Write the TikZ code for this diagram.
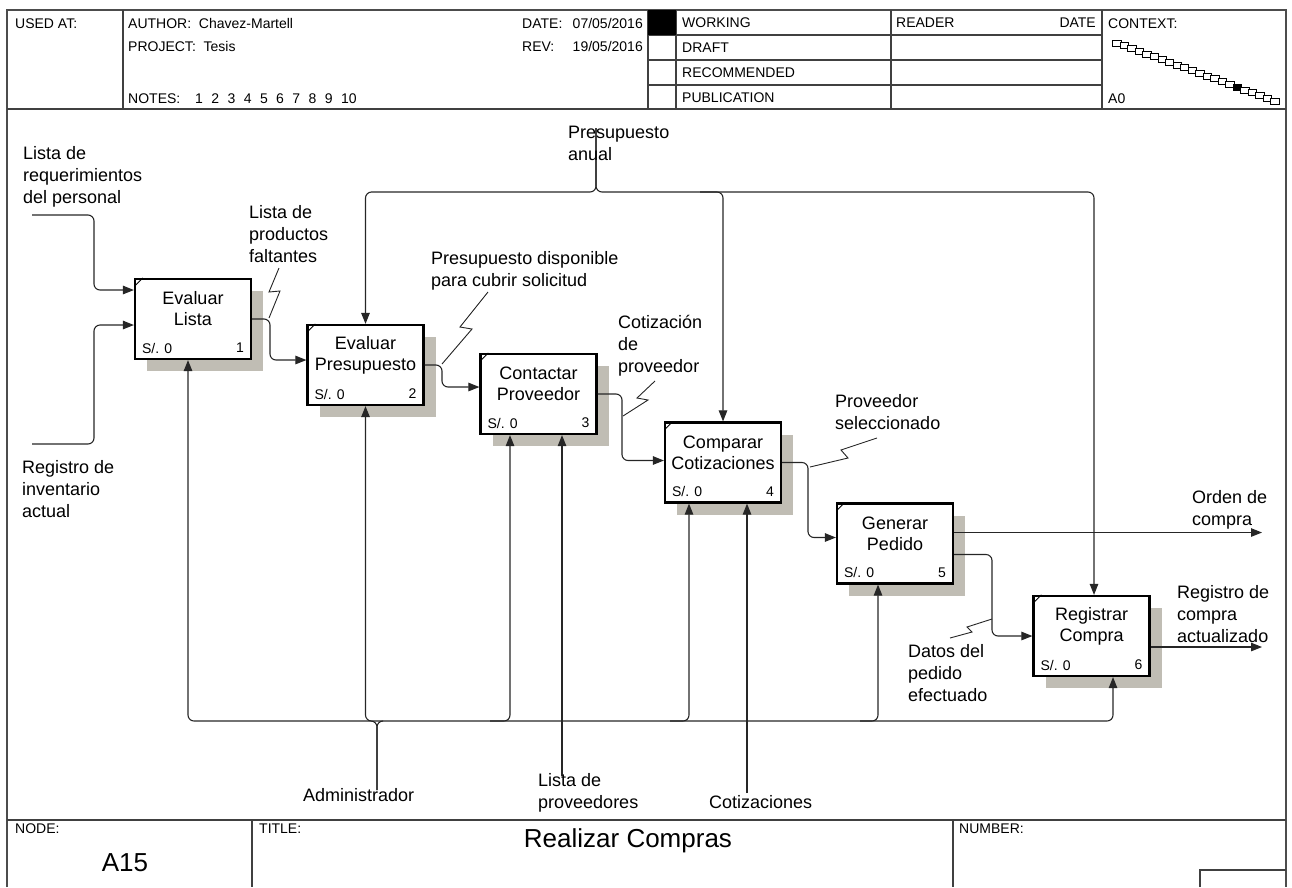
\documentclass[tikz,border=0pt]{standalone}
\usepackage{fontspec}
\setmainfont{Liberation Sans}
\usetikzlibrary{arrows.meta,shadows,calc}
\definecolor{shc}{RGB}{192,189,180}

\begin{document}
\begin{tikzpicture}[x=1pt,y=-1pt,
  frame/.style={line width=1.8pt, draw=black!70},
  rule/.style={line width=1.1pt, draw=black!75},
  conn/.style={line width=1.1pt, draw=black!85, rounded corners=6pt},
  arr/.style={conn, -{Triangle[length=11pt,width=8.5pt]}},
  zig/.style={line width=0.9pt, draw=black!85},
  actbox/.style={draw=black, line width=2.2pt, fill=white, minimum width=116pt,
    minimum height=80pt, inner sep=0pt,
    drop shadow={shadow xshift=12pt, shadow yshift=-12pt, fill=shc, opacity=1}},
  btitle/.style={font=\fontsize{18}{21}\selectfont, align=center, inner sep=0pt},
  bsmall/.style={font=\fontsize{14}{16}\selectfont, inner sep=0pt},
  lbl/.style={font=\fontsize{18}{22}\selectfont, align=left, inner sep=0pt, anchor=north west},
  hdr/.style={font=\fontsize{14}{16}\selectfont, inner sep=0pt, anchor=base west},
  big/.style={font=\fontsize{26}{30}\selectfont, inner sep=0pt},
]
\useasboundingbox (0,0) rectangle (1292,887);

% ---------- sheet frame ----------
\draw[frame] (7,887) -- (7,10) -- (1286,10) -- (1286,887);
\draw[rule] (7,109) -- (1286,109);
\foreach \xx in {123,648,676,891,1102} \draw[rule] (\xx,10) -- (\xx,109);
\foreach \yy in {35,60,85} \draw[rule] (648,\yy) -- (1102,\yy);
\fill[black] (648,10) rectangle (676,35);
\draw[rule] (7,820) -- (1286,820);
\draw[rule] (252,820) -- (252,887);
\draw[rule] (953,820) -- (953,887);
\draw[rule] (1200,887) |- (1286,870);

% ---------- header texts (baselines) ----------
\node[hdr] (h-used) at (15,28) {USED AT:};
\node[hdr] (h-auth) at (128,28) {AUTHOR:\ \ Chavez-Martell};
\node[hdr] (h-proj) at (128,51) {PROJECT:\ \ Tesis};
\node[hdr] (h-notes) at (128,103) {NOTES:};
\foreach \n [count=\i] in {1,...,10}
  \node[hdr] (h-n\i) at ({195+16.2*(\i-1)},103) {\n};
\node[hdr] (h-date) at (522,28) {DATE:};
\node[hdr, anchor=base east] (h-dv) at (643,28) {07/05/2016};
\node[hdr] (h-rev) at (522,51) {REV:};
\node[hdr, anchor=base east] (h-rv) at (643,51) {19/05/2016};
\node[hdr] (h-work) at (682,27) {WORKING};
\node[hdr] (h-draft) at (682,52) {DRAFT};
\node[hdr] (h-rec) at (682,77) {RECOMMENDED};
\node[hdr] (h-pub) at (682,102) {PUBLICATION};
\node[hdr] (h-read) at (896,27) {READER};
\node[hdr, anchor=base east] (h-rd) at (1096,27) {DATE};
\node[hdr] (h-ctx) at (1108,28) {CONTEXT:};
\node[hdr] (h-a0) at (1108,103) {A0};

% context chain of sibling boxes
\foreach \i in {0,...,21} {
  \pgfmathsetmacro\cx{1117+\i*7.52}
  \pgfmathsetmacro\cy{43+\i*2.76}
  \ifnum\i=16
    \draw[line width=0.8pt, fill=black] (\cx-4.2,\cy-3) rectangle (\cx+4.2,\cy+3);
  \else
    \draw[line width=0.8pt, fill=white] (\cx-4.2,\cy-3) rectangle (\cx+4.2,\cy+3);
  \fi
}

% ---------- footer texts ----------
\node[hdr] (f-node) at (15,833) {NODE:};
\node[big] (f-a15) at (125,863) {A15};
\node[hdr] (f-title) at (259,833) {TITLE:};
\node[big] (f-name) at (628,841) {Realizar Compras};
\node[hdr] (f-num) at (959,833) {NUMBER:};

% ---------- activity boxes ----------
\node[actbox] (b1) at (193,319) {};
\node[actbox] (b2) at (365.5,365) {};
\node[actbox] (b3) at (538.5,394) {};
\node[actbox] (b4) at (723,462.5) {};
\node[actbox] (b5) at (895,543.5) {};
\node[actbox] (b6) at (1091.5,636) {};

\foreach \b/\t/\k in {b1/{Evaluar\\Lista}/1, b2/{Evaluar\\Presupuesto}/2,
    b3/{Contactar\\Proveedor}/3, b4/{Comparar\\Cotizaciones}/4,
    b5/{Generar\\Pedido}/5, b6/{Registrar\\Compra}/6} {
  \node[btitle] (\b-t) at ([yshift=-31pt]\b.north) {\t};
  \node[bsmall, anchor=west] (\b-c) at ([xshift=8pt,yshift=12pt]\b.south west) {S/. 0};
  \node[bsmall, anchor=east] (\b-n) at ([xshift=-8pt,yshift=12pt]\b.south east) {\k};
  \draw[line width=0.9pt] ($(\b.north west)+(1,8)$) -- ($(\b.north west)+(9,0)$);
}

% ---------- helper coordinates ----------
\coordinate (i1) at (32,215);
\coordinate (i2) at (32,444);
\coordinate (kin) at (94,0);
\coordinate (b1in1) at ([yshift=29pt]b1.west);
\coordinate (b1in2) at ([yshift=-6pt]b1.west);
\coordinate (k1) at (270,0);
\coordinate (k2) at (442,0);
\coordinate (k3) at (622,0);
\coordinate (k4) at (808,0);
\coordinate (k5) at (992,0);
\coordinate (o1) at (1262,0);
\coordinate (b5hi) at ([yshift=11pt]b5.east);
\coordinate (b5lo) at ([yshift=-11pt]b5.east);
\coordinate (b6o) at ([yshift=-11pt]b6.east);
\coordinate (pa) at (596,128);
\coordinate (bt) at (0,192);
\coordinate (cr) at (1094,0);
\coordinate (bm) at (700,192);
\coordinate (adm) at (377,790);
\coordinate (bb) at (0,721);
\coordinate (ml) at (188,0);
\coordinate (mr) at (1113,0);
\coordinate (s2) at (383,721);
\coordinate (s3) at (490,721);
\coordinate (m3) at (510,0);
\coordinate (s4) at (670,721);
\coordinate (m4) at (689,0);
\coordinate (s5) at (860,721);
\coordinate (m5) at (878,0);
\coordinate (lp) at (562,776);
\coordinate (cz) at (747,793);

% ---------- inputs ----------
\draw[arr] (i1) -| (kin |- b1in1) -- (b1in1);
\draw[arr] (i2) -| (kin |- b1in2) -- (b1in2);

% ---------- box to box ----------
\draw[arr] (b1.east) -- (b1.east -| k1) |- ([yshift=5pt]b2.west);
\draw[arr] (b2.east) -- (b2.east -| k2) |- ([yshift=7pt]b3.west);
\draw[arr] (b3.east) -- (b3.east -| k3) |- ([yshift=2pt]b4.west);
\draw[arr] (b4.east) -- (b4.east -| k4) |- ([yshift=6pt]b5.west);
\draw[arr] (b5lo) -- (b5lo -| k5) |- (b6.west);

% ---------- outputs ----------
\draw[arr] (b5hi) -- (b5hi -| o1);
\draw[arr] (b6o) -- (b6o -| o1);

% ---------- controls ----------
\draw[arr] (pa) |- (b2.north |- bt) -- (b2.north);
\draw[arr] (pa) |- (cr |- bt) -- (cr |- b6.north);
\draw[arr] (bm) -| (b4.north);

% ---------- mechanisms ----------
\draw[arr] (adm) |- (ml |- bb) -- (ml |- b1.south);
\draw[arr] (adm) |- (mr |- bb) -- (mr |- b6.south);
\draw[arr] (s2) -| (b2.south);
\draw[arr] (s3) -| (m3 |- b3.south);
\draw[arr] (s4) -| (m4 |- b4.south);
\draw[arr] (s5) -| (m5 |- b5.south);
\draw[arr] (lp) -- (lp |- b3.south);
\draw[arr] (cz) -- (cz |- b4.south);

% ---------- arrow labels with squiggles ----------
\node[lbl] (l-req) at (23,146) {Lista de\\requerimientos\\del personal};
\node[lbl] (l-inv) at (22,460) {Registro de\\inventario\\actual};
\node[lbl] (l-falt) at (249,205) {Lista de\\productos\\faltantes};
\node[lbl] (l-disp) at (431,251) {Presupuesto disponible\\para cubrir solicitud};
\node[lbl] (l-coti) at (618,315) {Cotización\\de\\proveedor};
\node[lbl] (l-sel) at (835,394) {Proveedor\\seleccionado};
\node[lbl] (l-orden) at (1192,490) {Orden de\\compra};
\node[lbl] (l-reg) at (1177,585) {Registro de\\compra\\actualizado};
\node[lbl] (l-datos) at (908,644) {Datos del\\pedido\\efectuado};
\node[lbl] (l-anual) at (568,126) {Presupuesto\\anual};
\node[lbl] (l-adm) at (303,788) {Administrador};
\node[lbl] (l-prov) at (538,773) {Lista de\\proveedores};
\node[lbl] (l-cots) at (709,795) {Cotizaciones};

\draw[zig] (279,268) -- (269,292) -- (280,291) -- (269,318);
\draw[zig] (488,292) -- (460,327) -- (472,329) -- (442,364);
\draw[zig] (655,381) -- (637,398) -- (648,400) -- (623,416);
\draw[zig] (877,438) -- (841,450) -- (848,458) -- (810,467);
\draw[zig] (950,638) -- (972,632) -- (967,627) -- (992,619);

\end{tikzpicture}
\end{document}
